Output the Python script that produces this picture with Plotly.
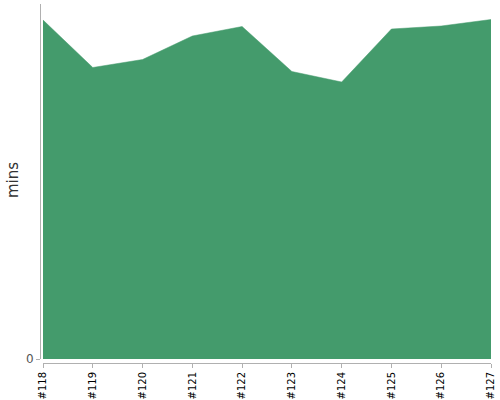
import plotly.graph_objects as go

categories = ["#118", "#119", "#120", "#121", "#122", "#123", "#124", "#125", "#126", "#127"]
mins = [33.9, 29.15, 29.95, 32.3, 33.25, 28.75, 27.7, 33.0, 33.3, 33.95]
y_ticks = [0]
y_title = "mins"

fig = go.Figure()
fig.add_trace(go.Scatter(
    x=categories, y=mins, mode="lines", fill="tozeroy",
    line=dict(color="#449b6c", width=0.5), fillcolor="#449b6c",
    hoverinfo="x+y",
))

W = 452.0
H = 359.0
fig.update_layout(
    width=500, height=400,
    margin=dict(l=40, r=8, t=4, b=37, autoexpand=False),
    paper_bgcolor="white", plot_bgcolor="white",
    showlegend=False,
    xaxis=dict(
        type="category", range=[0, 9], domain=[3 / W, 451 / W],
        anchor="free", position=0, automargin=False,
        showline=True, linecolor="#b0b0b0", linewidth=1,
        ticks="outside", ticklen=4, tickcolor="#b0b0b0",
        tickangle=-90, tickfont=dict(family="DejaVu Sans", size=10, color="#000"),
        showgrid=False, zeroline=False,
    ),
    yaxis=dict(
        range=[0, 35.5], domain=[4 / H, 1],
        anchor="free", position=0, automargin=False,
        showline=True, linecolor="#b0b0b0", linewidth=1,
        ticks="outside", ticklen=4, tickcolor="#b0b0b0",
        tickvals=y_ticks, ticktext=[str(v) for v in y_ticks],
        tickfont=dict(family="DejaVu Sans", size=12, color="#555"),
        showgrid=False, zeroline=False,
    ),
    annotations=[dict(
        text=y_title, xref="paper", yref="paper",
        x=(13 - 40) / W, y=(363 - 180) / H, xanchor="center", yanchor="middle",
        textangle=-90, showarrow=False,
        font=dict(family="DejaVu Sans", size=15, color="#333"),
    )],
)

fig.write_html("out.html", post_script="document.body.style.margin='0';",
               config={"displayModeBar": False})
